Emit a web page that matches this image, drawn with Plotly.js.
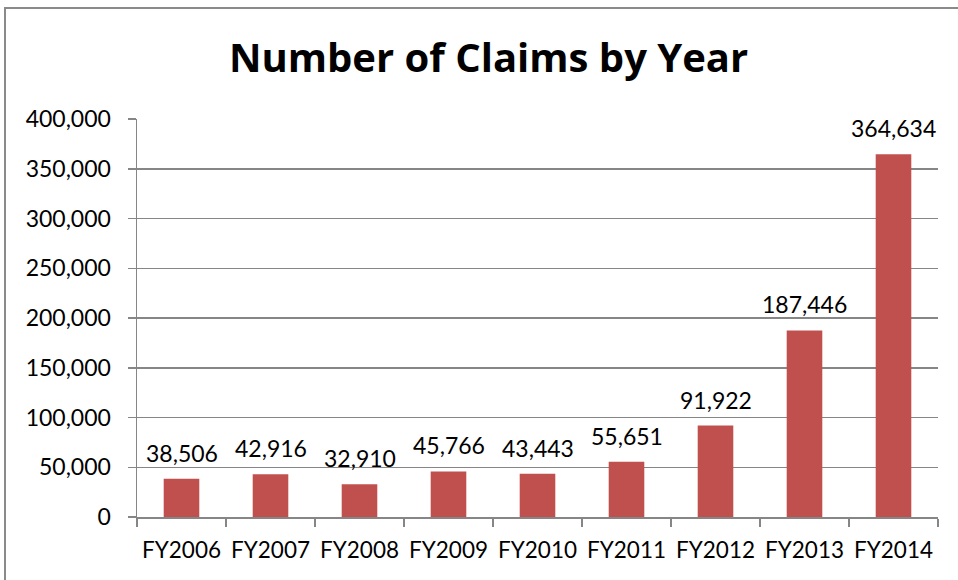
<!DOCTYPE html>
<html>
<head>
<meta charset="utf-8">
<script src="https://cdn.plot.ly/plotly-3.0.1.min.js"></script>
<style>
html,body{margin:0;padding:0;background:#fff;}
#wrap{position:relative;width:958px;height:580px;}
#chart{width:958px;height:580px;}
#frame{position:absolute;left:4px;top:7px;width:960px;height:580px;border-left:2px solid #8a8a8a;border-top:2px solid #8a8a8a;pointer-events:none;}
</style>
</head>
<body>
<div id="wrap"><div id="chart"></div><div id="frame"></div></div>
<script>
const categories = ["FY2006","FY2007","FY2008","FY2009","FY2010","FY2011","FY2012","FY2013","FY2014"];
const claims = [38506, 42916, 32910, 45766, 43443, 55651, 91922, 187446, 364634];
const yTicks = [0,50000,100000,150000,200000,250000,300000,350000,400000];
const yTickLabels = yTicks.map(v => v.toLocaleString("en-US"));
const titleText = "Number of Claims by Year";

const font = "Lato, 'Open Sans', 'Liberation Sans', sans-serif";
const titleFont = "'Open Sans', Lato, sans-serif";

const trace = {
  type: "bar",
  x: categories,
  y: claims,
  marker: {color: "#C0504D", line: {width: 0}},
  hoverinfo: "x+y"
};

const annotations = categories.map((c, i) => ({
  x: c, y: claims[i], xref: "x", yref: "y",
  text: claims[i].toLocaleString("en-US"),
  showarrow: false, xanchor: "center", yanchor: "bottom", yshift: 10,
  font: {family: font, size: 23, color: "#000"}
}));

const layout = {
  width: 958, height: 580,
  margin: {l: 137, r: 20, t: 119, b: 63},
  paper_bgcolor: "#fff", plot_bgcolor: "#fff",
  bargap: 0.6,
  showlegend: false,
  annotations: annotations,
  title: {text: "<b>" + titleText + "</b>", font: {family: titleFont, size: 40, color: "#000"}, x: 0.51, xanchor: "center", y: 0.9, yanchor: "middle"},
  xaxis: {
    type: "category",
    tickson: "boundaries",
    ticks: "outside", ticklen: 8, tickcolor: "#868686", tickwidth: 1.5,
    showline: true, linecolor: "#868686", linewidth: 1.5,
    showgrid: false,
    tickfont: {family: font, size: 22.5, color: "#000"},
    ticklabelstandoff: 12
  },
  yaxis: {
    range: [0, 400000],
    tickvals: yTicks, ticktext: yTickLabels,
    ticks: "outside", ticklen: 8, tickcolor: "#868686", tickwidth: 1.5,
    showline: true, linecolor: "#868686", linewidth: 1.5,
    showgrid: true, gridcolor: "#868686", gridwidth: 1.5,
    zeroline: false,
    tickfont: {family: font, size: 23, color: "#000"},
    ticklabelstandoff: 12
  }
};

Plotly.newPlot("chart", [trace], layout, {displayModeBar: false, staticPlot: true});
</script>
</body>
</html>
